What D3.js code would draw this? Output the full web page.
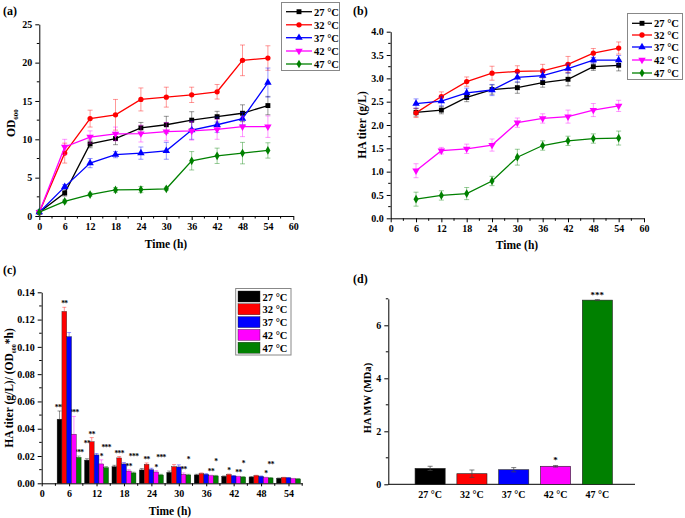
<!DOCTYPE html>
<html><head><meta charset="utf-8">
<script src="https://cdn.jsdelivr.net/npm/d3@7"></script>
<style>body{margin:0;background:#fff}text{font-family:"Liberation Serif","Times New Roman",serif;font-weight:bold}</style>
</head><body>
<svg id="c" width="685" height="518"></svg>
<script>
const temps = ["27 °C","32 °C","37 °C","42 °C","47 °C"];
const colors = ["#000000","#ff0000","#0000ff","#ff00ff","#008000"];
const markers = ["square","circle","triUp","triDown","diamond"];

// (a) OD600
const timeA = [0,6,12,18,24,30,36,42,48,54];
const od27 = [0.5,3.0,9.4,10.1,11.5,11.9,12.5,12.95,13.4,14.4];
const od32 = [0.5,8.2,12.7,13.2,15.2,15.5,15.8,16.2,20.3,20.6];
const od37 = [0.5,3.8,6.9,8.0,8.2,8.5,11.2,11.9,12.7,17.4];
const od42 = [0.5,9.0,10.3,10.7,10.75,11.0,11.1,11.3,11.65,11.65];
const od47 = [0.5,1.9,2.8,3.4,3.45,3.55,7.2,7.85,8.2,8.55];
const odErr27 = [0,0.4,0.5,0.8,0.7,1.1,1.1,0.7,1.1,1.2];
const odErr32 = [0,1.3,1.1,2.0,1.5,1.3,1.0,0.95,2.0,1.6];
const odErr37 = [0,0.3,0.6,0.4,0.8,1.1,1.2,1.0,0.8,1.9];
const odErr42 = [0,1.0,0.8,0.9,1.1,1.2,1.2,1.3,1.3,1.4];
const odErr47 = [0,0.2,0.2,0.3,0.4,0.2,1.2,1.0,1.4,1.0];

// (b) HA titer
const timeB = [6,12,18,24,30,36,42,48,54];
const ha27 = [2.27,2.32,2.59,2.76,2.80,2.91,2.98,3.25,3.28];
const ha32 = [2.26,2.61,2.93,3.11,3.15,3.16,3.30,3.54,3.65];
const ha37 = [2.46,2.51,2.69,2.75,3.02,3.06,3.21,3.39,3.39];
const ha42 = [1.02,1.45,1.49,1.57,2.05,2.14,2.18,2.32,2.41];
const ha47 = [0.41,0.49,0.53,0.80,1.31,1.56,1.66,1.71,1.72];
const haErr27 = [0.08,0.08,0.09,0.1,0.12,0.1,0.14,0.08,0.12];
const haErr32 = [0.1,0.1,0.1,0.15,0.12,0.14,0.17,0.1,0.13];
const haErr37 = [0.1,0.1,0.1,0.12,0.1,0.1,0.1,0.06,0.1];
const haErr42 = [0.15,0.07,0.1,0.13,0.1,0.1,0.14,0.14,0.12];
const haErr47 = [0.15,0.1,0.13,0.1,0.17,0.1,0.1,0.1,0.15];

// (c) specific productivity
const timeC = [6,12,18,24,30,36,42,48,54];
const sp27 = [0.047,0.017,0.0122,0.0098,0.008,0.0061,0.0051,0.0046,0.0037];
const sp32 = [0.126,0.0305,0.0186,0.0139,0.0122,0.0071,0.0064,0.0056,0.0042];
const sp37 = [0.1075,0.0208,0.0142,0.010,0.012,0.0066,0.0054,0.0051,0.0040];
const sp42 = [0.036,0.0142,0.009,0.0083,0.0066,0.0056,0.0049,0.0042,0.0034];
const sp47 = [0.019,0.0115,0.0076,0.0061,0.0061,0.0054,0.0046,0.0039,0.0032];
const spErr27 = [0.006,0.001,0.001,0.001,0.001,0.0005,0.0003,0.0003,0.0002];
const spErr32 = [0.003,0.003,0.001,0.001,0.0015,0.0005,0.0004,0.0003,0.0002];
const spErr37 = [0.003,0.001,0.001,0.001,0.0015,0.0005,0.0003,0.0003,0.0002];
const spErr42 = [0.013,0.003,0.001,0.001,0.001,0.0004,0.0003,0.0003,0.0002];
const spErr47 = [0.001,0.0008,0.0006,0.0005,0.0005,0.0004,0.0003,0.0003,0.0002];
const spStars27 = ["***","**","","","","","","",""];
const spStars32 = ["**","**","***","**","","","*","",""];
const spStars37 = ["","","","","","","","",""];
const spStars42 = ["***","*","**","*","**","**","**","*",""];
const spStars47 = ["***","***","***","***","*","*","*","**",""];

// (d) molecular weight
const mw = [0.6,0.4,0.55,0.68,6.95];
const mwErr = [0.08,0.14,0.08,0.03,0.02];
const mwStars = ["","","","*","***"];

const svg = d3.select("#c");
const SERIF = "'Liberation Serif','Times New Roman',serif";

function symbolFor(m){
  return {square:d3.symbolSquare,circle:d3.symbolCircle,triUp:d3.symbolTriangle,triDown:d3.symbolTriangle,diamond:d3.symbolDiamond}[m];
}
function drawMarker(g,m,x,y,col){
  const s = d3.symbol().type(symbolFor(m)).size(m==="circle"?22:m==="diamond"?22:24);
  g.append("path").attr("d",s()).attr("fill",col)
    .attr("transform",`translate(${x},${y})`+(m==="triDown"?" rotate(180)":""));
}

function styleAxis(g){
  g.attr("font-family",null);
  g.selectAll("path.domain").attr("stroke","#000").attr("stroke-width",1);
  g.selectAll(".tick line").attr("stroke","#000");
  g.selectAll(".tick text").style("font-size","10px").style("font-family",SERIF).style("font-weight","bold").attr("fill","#000");
}
function minorTicks(g, scale, vals, orient){
  vals.forEach(v=>{
    if(orient==="bottom") g.append("line").attr("x1",scale(v)).attr("x2",scale(v)).attr("y1",0).attr("y2",2.5).attr("stroke","#000");
    else g.append("line").attr("y1",scale(v)).attr("y2",scale(v)).attr("x1",0).attr("x2",-2.5).attr("stroke","#000");
  });
}

function linePanel(opts){
  const {x,y,series,errs,times,xTicks,yTicks,yFmt,yMinor,xMinor} = opts;
  const gx = svg.append("g").attr("transform",`translate(0,${y.range()[0]})`)
    .call(d3.axisBottom(x).tickValues(xTicks).tickSize(4).tickSizeOuter(0).tickPadding(3));
  styleAxis(gx); minorTicks(gx,x,xMinor,"bottom");
  const gy = svg.append("g").attr("transform",`translate(${x.range()[0]},0)`)
    .call(d3.axisLeft(y).tickValues(yTicks).tickFormat(yFmt).tickSize(4).tickSizeOuter(0).tickPadding(3));
  styleAxis(gy); minorTicks(gy,y,yMinor,"left");
  series.forEach((s,i)=>{
    const g = svg.append("g");
    s.forEach((v,j)=>{
      const e = errs[i][j]; if(!e) return;
      const cx = x(times[j]);
      g.append("line").attr("x1",cx).attr("x2",cx).attr("y1",y(v-e)).attr("y2",y(v+e)).attr("stroke",colors[i]).attr("stroke-opacity",0.45).attr("stroke-width",0.9);
      [v-e,v+e].forEach(w=>g.append("line").attr("x1",cx-2.5).attr("x2",cx+2.5).attr("y1",y(w)).attr("y2",y(w)).attr("stroke",colors[i]).attr("stroke-opacity",0.45).attr("stroke-width",0.9));
    });
    g.append("path").datum(s).attr("fill","none").attr("stroke",colors[i]).attr("stroke-width",1.3)
      .attr("d",d3.line().x((d,j)=>x(times[j])).y(d=>y(d)));
    s.forEach((v,j)=>drawMarker(g,markers[i],x(times[j]),y(v),colors[i]));
  });
}

// Panel (a)
const xA = d3.scaleLinear().domain([0,60]).range([39.3,293.3]);
const yA = d3.scaleLinear().domain([0,25]).range([216,24.3]);
linePanel({x:xA,y:yA,series:[od27,od32,od37,od42,od47],errs:[odErr27,odErr32,odErr37,odErr42,odErr47],times:timeA,
  xTicks:d3.range(0,61,6),xMinor:d3.range(3,60,6),yTicks:[0,5,10,15,20,25],yMinor:[2.5,7.5,12.5,17.5,22.5],yFmt:d3.format("d")});
svg.append("text").attr("x",3).attr("y",15).attr("font-size",12).text("(a)");
svg.append("text").attr("x",166).attr("y",248).attr("text-anchor","middle").attr("font-size",11.5).text("Time (h)");
const tA = svg.append("text").attr("transform","translate(15,123) rotate(-90)").attr("text-anchor","middle").attr("font-size",11.5);
tA.append("tspan").text("OD");
tA.append("tspan").attr("font-size",7).attr("dy",3).text("600");

// Panel (b)
const xB = d3.scaleLinear().domain([0,60]).range([390.7,644]);
const yB = d3.scaleLinear().domain([0,4]).range([218.3,31.7]);
linePanel({x:xB,y:yB,series:[ha27,ha32,ha37,ha42,ha47],errs:[haErr27,haErr32,haErr37,haErr42,haErr47],times:timeB,
  xTicks:d3.range(0,61,6),xMinor:d3.range(3,60,6),yTicks:d3.range(0,4.01,0.5),yMinor:d3.range(0.25,4,0.5),yFmt:d3.format(".1f")});
svg.append("text").attr("x",353).attr("y",15).attr("font-size",12).text("(b)");
svg.append("text").attr("x",517).attr("y",249).attr("text-anchor","middle").attr("font-size",11.5).text("Time (h)");
svg.append("text").attr("transform","translate(366,125) rotate(-90)").attr("text-anchor","middle").attr("font-size",11.5).text("HA titer (g/L)");

function lineLegend(x0,y0,w,h,rowYs,lineX1,lineX2,textX){
  svg.append("rect").attr("x",x0).attr("y",y0).attr("width",w).attr("height",h).attr("fill","#fff").attr("stroke","#888").attr("stroke-width",1);
  temps.forEach((t,i)=>{
    svg.append("line").attr("x1",lineX1).attr("x2",lineX2).attr("y1",rowYs[i]).attr("y2",rowYs[i]).attr("stroke",colors[i]).attr("stroke-width",1.3);
    drawMarker(svg,markers[i],(lineX1+lineX2)/2,rowYs[i],colors[i]);
    svg.append("text").attr("x",textX).attr("y",rowYs[i]+3.8).attr("font-size",10.5).text(t);
  });
}
lineLegend(281.5,2.5,58,68,[11.7,24.8,37.7,51,64],286,312,314);
lineLegend(627.5,13.5,55,66,[23.3,35,47,60,73],632,652,654);

// Panel (c)
const xC = d3.scaleLinear().domain([0,57]).range([41.7,302.2]);
const yC = d3.scaleLinear().domain([0,0.14]).range([483.3,292.3]);
const gxc = svg.append("g").attr("transform",`translate(0,483.3)`)
  .call(d3.axisBottom(xC).tickValues(d3.range(0,55,6)).tickSize(3).tickSizeOuter(0).tickPadding(4));
styleAxis(gxc); minorTicks(gxc,xC,d3.range(3,58,6),"bottom");
const gyc = svg.append("g").attr("transform",`translate(41.7,0)`)
  .call(d3.axisLeft(yC).tickValues(d3.range(0,0.1401,0.02)).tickFormat(d3.format(".2f")).tickSize(4).tickSizeOuter(0).tickPadding(3));
styleAxis(gyc); minorTicks(gyc,yC,d3.range(0.01,0.14,0.02),"left");
const spSeries = [sp27,sp32,sp37,sp42,sp47];
const spErrs = [spErr27,spErr32,spErr37,spErr42,spErr47];
const spStars = [spStars27,spStars32,spStars37,spStars42,spStars47];
const bw = 1.05;
const starG = svg.append("g");
const placed = [];
function overlaps(a,b){ return a.x < b.x+b.width && b.x < a.x+a.width && a.y < b.y+b.height && b.y < a.y+a.height; }
spSeries.forEach((s,i)=>{
  s.forEach((v,j)=>{
    const cx = timeC[j] + (i-2)*bw;
    const x0 = xC(cx-bw/2), x1 = xC(cx+bw/2);
    svg.append("rect").attr("x",x0).attr("width",x1-x0).attr("y",yC(v)).attr("height",yC(0)-yC(v))
      .attr("fill",colors[i]).attr("stroke","#222").attr("stroke-width",0.4);
    const e = spErrs[i][j];
    const mx = xC(cx);
    svg.append("line").attr("x1",mx).attr("x2",mx).attr("y1",yC(v)).attr("y2",yC(v+e)).attr("stroke",i===0?"#000":colors[i]).attr("stroke-opacity",0.6).attr("stroke-width",0.7);
    svg.append("line").attr("x1",mx-2).attr("x2",mx+2).attr("y1",yC(v+e)).attr("y2",yC(v+e)).attr("stroke",i===0?"#000":colors[i]).attr("stroke-opacity",0.6).attr("stroke-width",0.7);
  });
});
// stars, placed group by group, nudged to avoid collisions
timeC.forEach((t,j)=>{
  spSeries.forEach((s,i)=>{
    const st = spStars[i][j]; if(!st) return;
    const v = s[j], e = spErrs[i][j];
    const mx = xC(t + (i-2)*bw);
    let ty = yC(v+e)-1;
    const txt = starG.append("text").attr("x",mx).attr("y",ty).attr("text-anchor","middle").attr("font-size",7.5).attr("font-weight","normal").attr("letter-spacing",-0.6).text(st);
    let bb = txt.node().getBBox(), n=0;
    while(placed.some(p=>overlaps(bb,p)) && n<20){ ty -= 1; txt.attr("y",ty); bb = txt.node().getBBox(); n++; }
    placed.push(bb);
  });
});
svg.append("text").attr("x",3).attr("y",274).attr("font-size",12).text("(c)");
svg.append("text").attr("x",170).attr("y",515).attr("text-anchor","middle").attr("font-size",11.5).text("Time (h)");
const tC = svg.append("text").attr("transform","translate(13,388) rotate(-90)").attr("text-anchor","middle").attr("font-size",11.5);
tC.append("tspan").text("HA titer (g/L)/ (OD");
tC.append("tspan").attr("font-size",6).attr("dy",2.5).text("600");
tC.append("tspan").attr("dy",-2.5).text("*h)");
svg.append("rect").attr("x",235.7).attr("y",288.5).attr("width",55.3).attr("height",66.5).attr("fill","#fff").attr("stroke","#888");
temps.forEach((t,i)=>{
  const yy = 291 + i*12.8;
  svg.append("rect").attr("x",238).attr("y",yy).attr("width",22).attr("height",11).attr("fill",colors[i]).attr("stroke","#222").attr("stroke-width",0.4);
  svg.append("text").attr("x",262.5).attr("y",yy+9.5).attr("font-size",10.5).text(t);
});

// Panel (d)
const xD = d3.scaleLinear().domain([0,5.9]).range([388.3,635]);
const yD = d3.scaleLinear().domain([0,7]).range([484.3,298.8]);
svg.append("line").attr("x1",388.3).attr("x2",635).attr("y1",484.3).attr("y2",484.3).attr("stroke","#000");
const gyd = svg.append("g").attr("transform",`translate(388.3,0)`)
  .call(d3.axisLeft(yD).tickValues([0,2,4,6]).tickFormat(d3.format("d")).tickSize(4).tickSizeOuter(0).tickPadding(3));
styleAxis(gyd); minorTicks(gyd,yD,[1,3,5,7],"left");
mw.forEach((v,i)=>{
  const c = i+1, hw = 0.36;
  svg.append("rect").attr("x",xD(c-hw)).attr("width",xD(c+hw)-xD(c-hw)).attr("y",yD(v)).attr("height",yD(0)-yD(v))
    .attr("fill",colors[i]).attr("stroke","#222").attr("stroke-width",0.6);
  const e = mwErr[i];
  svg.append("line").attr("x1",xD(c)).attr("x2",xD(c)).attr("y1",yD(v-e)).attr("y2",yD(v+e)).attr("stroke","#444").attr("stroke-width",0.7);
  [v-e,v+e].forEach(w=>svg.append("line").attr("x1",xD(c)-2.5).attr("x2",xD(c)+2.5).attr("y1",yD(w)).attr("y2",yD(w)).attr("stroke","#444").attr("stroke-width",0.7));
  if(mwStars[i]) svg.append("text").attr("x",xD(c)).attr("y",yD(v+e)-2).attr("text-anchor","middle").attr("font-size",9).attr("font-weight","normal").text(mwStars[i]);
  svg.append("text").attr("x",xD(c)).attr("y",498).attr("text-anchor","middle").attr("font-size",10).text(temps[i]);
});
svg.append("text").attr("x",353).attr("y",283).attr("font-size",12).text("(d)");
svg.append("text").attr("transform","translate(371,398) rotate(-90)").attr("text-anchor","middle").attr("font-size",10.5).text("HA MW (MDa)");
</script>
</body></html>
